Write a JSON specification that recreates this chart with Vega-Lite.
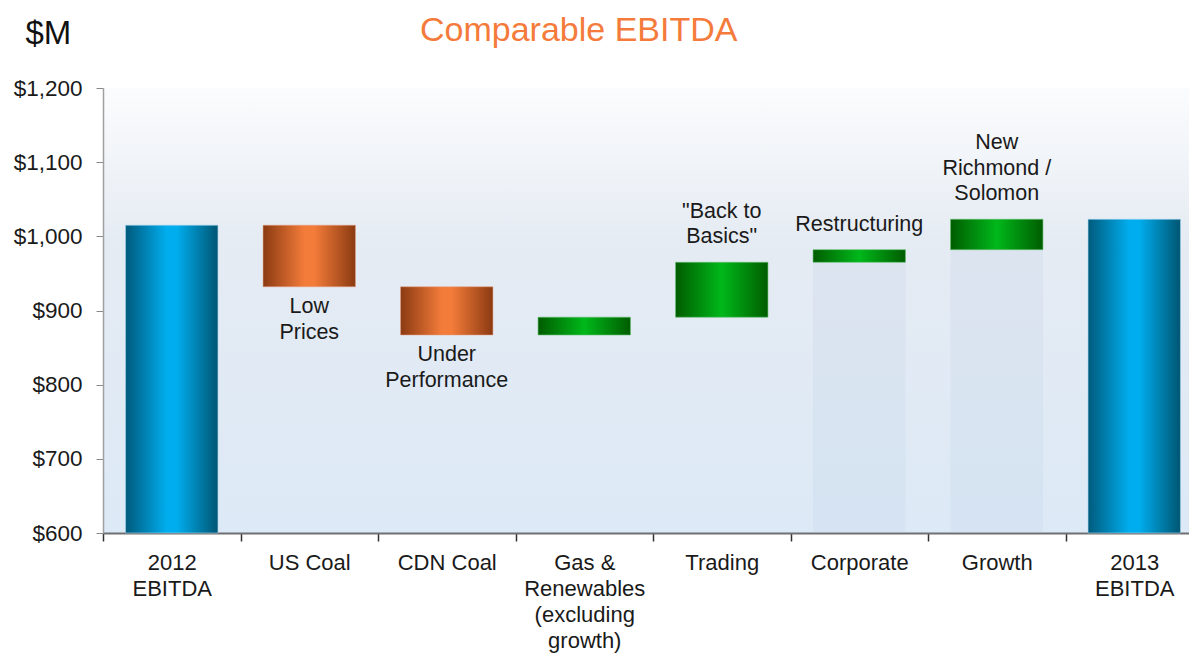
{
  "$schema": "https://vega.github.io/schema/vega-lite/v6.json",
  "autosize": {"type": "none"},
  "width": 1086,
  "height": 445,
  "padding": {"left": 103, "top": 88, "right": 0, "bottom": 121},
  "background": "#ffffff",
  "title": {
    "text": "Comparable EBITDA",
    "anchor": "start",
    "frame": "group",
    "dx": 317,
    "offset": -58,
    "baseline": "alphabetic",
    "font": "Liberation Sans",
    "fontSize": 34,
    "fontWeight": "normal",
    "color": "#f47b3b"
  },
  "data": {
    "values": [
      {"cat": "2012\nEBITDA", "low": 600, "high": 1015, "kind": "total", "note": "", "pos": "none", "ghost": false},
      {"cat": "US Coal", "low": 932, "high": 1015, "kind": "down", "note": "Low\nPrices", "pos": "below", "ghost": false},
      {"cat": "CDN Coal", "low": 867, "high": 932, "kind": "down", "note": "Under\nPerformance", "pos": "below", "ghost": false},
      {"cat": "Gas &\nRenewables\n(excluding\ngrowth)", "low": 867, "high": 891, "kind": "up", "note": "", "pos": "none", "ghost": false},
      {"cat": "Trading", "low": 891, "high": 965, "kind": "up", "note": "\"Back to\nBasics\"", "pos": "above", "ghost": false},
      {"cat": "Corporate", "low": 965, "high": 982, "kind": "up", "note": "Restructuring", "pos": "above", "ghost": true},
      {"cat": "Growth", "low": 982, "high": 1023, "kind": "up", "note": "New\nRichmond /\nSolomon", "pos": "above", "ghost": true},
      {"cat": "2013\nEBITDA", "low": 600, "high": 1023, "kind": "total", "note": "", "pos": "none", "ghost": false}
    ]
  },
  "encoding": {
    "x": {
      "field": "cat",
      "type": "nominal",
      "sort": ["2012\nEBITDA", "US Coal", "CDN Coal", "Gas &\nRenewables\n(excluding\ngrowth)", "Trading", "Corporate", "Growth", "2013\nEBITDA"],
      "scale": {"range": [0, 1100], "paddingInner": 0, "paddingOuter": 0},
      "axis": {
        "title": null,
        "labelAngle": 0,
        "labelExpr": "split(datum.label, '\\n')",
        "labelFont": "Liberation Sans",
        "labelFontSize": 22,
        "labelColor": "#1a1a1a",
        "labelLineHeight": 26,
        "labelBaseline": "top",
        "labelPadding": 11,
        "labelLimit": 0,
        "tickBand": "extent",
        "tickSize": 8,
        "tickColor": "#333333",
        "tickWidth": 1.5,
        "domainColor": "#707070",
        "domainWidth": 2,
        "grid": false
      }
    },
    "y": {
      "field": "high",
      "type": "quantitative",
      "scale": {"domain": [600, 1200], "nice": false, "zero": false},
      "axis": {
        "values": [600, 700, 800, 900, 1000, 1100, 1200],
        "format": "$,.0f",
        "labelFont": "Liberation Sans",
        "labelFontSize": 22.5,
        "labelColor": "#1a1a1a",
        "labelPadding": 14,
        "tickSize": 7,
        "tickColor": "#888888",
        "domainColor": "#a0a0a0",
        "domainWidth": 1.5,
        "grid": false,
        "title": "$M",
        "titleAngle": 0,
        "titleAlign": "left",
        "titleBaseline": "alphabetic",
        "titleX": -78,
        "titleY": -45,
        "titleFont": "Liberation Sans",
        "titleFontSize": 33,
        "titleFontWeight": "normal",
        "titleColor": "#111111"
      }
    },
    "y2": {"field": "low"}
  },
  "layer": [
    {
      "transform": [{"filter": "datum.ghost"}],
      "mark": {"type": "bar", "width": {"band": 0.672}, "fill": "#a9c0dc", "opacity": 0.14},
      "encoding": {"y": {"field": "low", "type": "quantitative"}, "y2": {"datum": 600}}
    },
    {
      "transform": [{"filter": "datum.kind == 'total'"}],
      "mark": {
        "type": "bar",
        "width": {"band": 0.672},
        "stroke": "#9fd3ee",
        "strokeWidth": 1,
        "strokeOpacity": 0.6,
        "fill": {
          "gradient": "linear", "x1": 0, "y1": 0, "x2": 1, "y2": 0,
          "stops": [
            {"offset": 0, "color": "#005a7c"},
            {"offset": 0.45, "color": "#00aeef"},
            {"offset": 0.55, "color": "#00aeef"},
            {"offset": 1, "color": "#005572"}
          ]
        }
      }
    },
    {
      "transform": [{"filter": "datum.kind == 'down'"}],
      "mark": {
        "type": "bar",
        "width": {"band": 0.672},
        "stroke": "#e8a080",
        "strokeWidth": 1,
        "strokeOpacity": 0.5,
        "fill": {
          "gradient": "linear", "x1": 0, "y1": 0, "x2": 1, "y2": 0,
          "stops": [
            {"offset": 0, "color": "#8b3a12"},
            {"offset": 0.45, "color": "#f47c3a"},
            {"offset": 0.55, "color": "#f47c3a"},
            {"offset": 1, "color": "#8b3a12"}
          ]
        }
      }
    },
    {
      "transform": [{"filter": "datum.kind == 'up'"}],
      "mark": {
        "type": "bar",
        "width": {"band": 0.672},
        "stroke": "#5fbf6a",
        "strokeWidth": 1,
        "strokeOpacity": 0.6,
        "fill": {
          "gradient": "linear", "x1": 0, "y1": 0, "x2": 1, "y2": 0,
          "stops": [
            {"offset": 0, "color": "#005c00"},
            {"offset": 0.5, "color": "#00b81a"},
            {"offset": 1, "color": "#005c00"}
          ]
        }
      }
    },
    {
      "transform": [{"filter": "datum.pos == 'below'"}],
      "mark": {"type": "text", "baseline": "top", "dy": 9.5, "lineBreak": "\n", "lineHeight": 25.5, "font": "Liberation Sans", "fontSize": 21.5, "color": "#1a1a1a"},
      "encoding": {"y": {"field": "low", "type": "quantitative"}, "y2": null, "text": {"field": "note"}}
    },
    {
      "transform": [{"filter": "datum.pos == 'above'"}],
      "mark": {"type": "text", "baseline": "bottom", "dy": {"expr": "-14 - 25.5 * (length(split(datum.note, '\\n')) - 1)"}, "lineBreak": "\n", "lineHeight": 25.5, "font": "Liberation Sans", "fontSize": 21.5, "color": "#1a1a1a"},
      "encoding": {"y": {"field": "high", "type": "quantitative"}, "y2": null, "text": {"field": "note"}}
    }
  ],
  "config": {
    "view": {
      "stroke": null,
      "fill": {
        "gradient": "linear", "x1": 0, "y1": 0, "x2": 0, "y2": 1,
        "stops": [
          {"offset": 0, "color": "#fbfcfd"},
          {"offset": 0.35, "color": "#e5ebf3"},
          {"offset": 1, "color": "#dce9f6"}
        ]
      }
    }
  }
}
